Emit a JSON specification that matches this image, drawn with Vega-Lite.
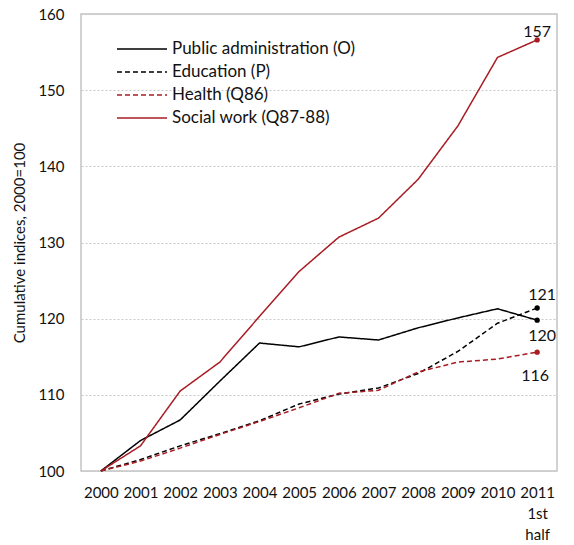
{
  "$schema": "https://vega.github.io/schema/vega-lite/v6.json",
  "width": 476,
  "height": 457,
  "padding": {"left": 12, "top": 7, "right": 10, "bottom": 5},
  "background": "white",
  "config": {
    "font": "Lato",
    "view": {"stroke": "#c4c4c4", "strokeWidth": 1.5},
    "axis": {
      "labelFont": "Lato",
      "labelFontSize": 15,
      "labelColor": "#111111",
      "titleFont": "Lato",
      "titleFontSize": 15,
      "titleFontWeight": "normal",
      "titleColor": "#111111",
      "gridColor": "#c8c8c8",
      "gridDash": [2, 2],
      "gridWidth": 1,
      "domain": false,
      "ticks": false
    }
  },
  "datasets": {
    "series": [
      {"series": "Public administration (O)", "year": "2000", "value": 100},
      {"series": "Public administration (O)", "year": "2001", "value": 104.0},
      {"series": "Public administration (O)", "year": "2002", "value": 106.7},
      {"series": "Public administration (O)", "year": "2003", "value": 111.8},
      {"series": "Public administration (O)", "year": "2004", "value": 116.8},
      {"series": "Public administration (O)", "year": "2005", "value": 116.3},
      {"series": "Public administration (O)", "year": "2006", "value": 117.6},
      {"series": "Public administration (O)", "year": "2007", "value": 117.2},
      {"series": "Public administration (O)", "year": "2008", "value": 118.8},
      {"series": "Public administration (O)", "year": "2009", "value": 120.1},
      {"series": "Public administration (O)", "year": "2010", "value": 121.3},
      {"series": "Public administration (O)", "year": "2011", "value": 119.8},
      {"series": "Education (P)", "year": "2000", "value": 100},
      {"series": "Education (P)", "year": "2001", "value": 101.5},
      {"series": "Education (P)", "year": "2002", "value": 103.3},
      {"series": "Education (P)", "year": "2003", "value": 104.9},
      {"series": "Education (P)", "year": "2004", "value": 106.6},
      {"series": "Education (P)", "year": "2005", "value": 108.8},
      {"series": "Education (P)", "year": "2006", "value": 110.1},
      {"series": "Education (P)", "year": "2007", "value": 110.9},
      {"series": "Education (P)", "year": "2008", "value": 112.8},
      {"series": "Education (P)", "year": "2009", "value": 115.7},
      {"series": "Education (P)", "year": "2010", "value": 119.4},
      {"series": "Education (P)", "year": "2011", "value": 121.4},
      {"series": "Health (Q86)", "year": "2000", "value": 100},
      {"series": "Health (Q86)", "year": "2001", "value": 101.3},
      {"series": "Health (Q86)", "year": "2002", "value": 103.0},
      {"series": "Health (Q86)", "year": "2003", "value": 104.8},
      {"series": "Health (Q86)", "year": "2004", "value": 106.5},
      {"series": "Health (Q86)", "year": "2005", "value": 108.3},
      {"series": "Health (Q86)", "year": "2006", "value": 110.2},
      {"series": "Health (Q86)", "year": "2007", "value": 110.6},
      {"series": "Health (Q86)", "year": "2008", "value": 113.0},
      {"series": "Health (Q86)", "year": "2009", "value": 114.3},
      {"series": "Health (Q86)", "year": "2010", "value": 114.7},
      {"series": "Health (Q86)", "year": "2011", "value": 115.6},
      {"series": "Social work (Q87-88)", "year": "2000", "value": 100},
      {"series": "Social work (Q87-88)", "year": "2001", "value": 103.3},
      {"series": "Social work (Q87-88)", "year": "2002", "value": 110.5},
      {"series": "Social work (Q87-88)", "year": "2003", "value": 114.3},
      {"series": "Social work (Q87-88)", "year": "2004", "value": 120.3},
      {"series": "Social work (Q87-88)", "year": "2005", "value": 126.2},
      {"series": "Social work (Q87-88)", "year": "2006", "value": 130.7},
      {"series": "Social work (Q87-88)", "year": "2007", "value": 133.2},
      {"series": "Social work (Q87-88)", "year": "2008", "value": 138.3},
      {"series": "Social work (Q87-88)", "year": "2009", "value": 145.3},
      {"series": "Social work (Q87-88)", "year": "2010", "value": 154.3},
      {"series": "Social work (Q87-88)", "year": "2011", "value": 156.6}
    ]
  },
  "data": {"name": "series"},
  "encoding": {
    "x": {
      "field": "year",
      "type": "ordinal",
      "scale": {"type": "band", "paddingInner": 0, "paddingOuter": 0},
      "axis": {
        "title": null,
        "labelAngle": 0,
        "labelPadding": 14,
        "tickBand": "extent",
        "labelLineHeight": 21,
        "labelExpr": "datum.value == '2011' ? ['2011', '1st', 'half'] : datum.value"
      }
    },
    "y": {
      "field": "value",
      "type": "quantitative",
      "scale": {"domain": [100, 160], "nice": false, "zero": false},
      "axis": {
        "title": "Cumulative indices, 2000=100",
        "values": [100, 110, 120, 130, 140, 150, 160],
        "labelPadding": 17,
        "titlePadding": 10
      }
    }
  },
  "layer": [
    {
      "mark": {"type": "line", "strokeWidth": 1.5},
      "encoding": {
        "color": {
          "field": "series",
          "type": "nominal",
          "scale": {
            "domain": ["Public administration (O)", "Education (P)", "Health (Q86)", "Social work (Q87-88)"],
            "range": ["#000000", "#000000", "#a81c24", "#a81c24"]
          },
          "legend": {
            "title": null,
            "orient": "none",
            "legendX": 50,
            "legendY": 24,
            "symbolType": "M-2.5,0H2.5",
            "symbolSize": 400,
            "symbolStrokeWidth": 1.5,
            "labelFont": "Lato",
            "labelFontSize": 17,
            "labelLimit": 400,
            "labelColor": "#111111",
            "rowPadding": 4,
            "labelOffset": 19,
            "padding": 0
          }
        },
        "strokeDash": {
          "field": "series",
          "type": "nominal",
          "scale": {
            "domain": ["Public administration (O)", "Education (P)", "Health (Q86)", "Social work (Q87-88)"],
            "range": [[1, 0], [5, 3], [5, 3], [1, 0]]
          },
          "legend": {
            "title": null,
            "orient": "none",
            "legendX": 50,
            "legendY": 24,
            "symbolType": "M-2.5,0H2.5",
            "symbolSize": 400,
            "symbolStrokeWidth": 1.5,
            "labelFont": "Lato",
            "labelFontSize": 17,
            "labelLimit": 400,
            "labelColor": "#111111",
            "rowPadding": 4,
            "labelOffset": 19,
            "padding": 0
          }
        }
      }
    },
    {
      "transform": [{"filter": "datum.year == '2011'"}],
      "mark": {"type": "point", "filled": true, "size": 28, "opacity": 1},
      "encoding": {
        "color": {"field": "series", "type": "nominal", "legend": null}
      }
    },
    {
      "transform": [{"filter": "datum.year == '2011' && datum.series == 'Social work (Q87-88)'"}],
      "mark": {"type": "text", "fontSize": 16, "dy": -8, "dx": 0, "color": "#111111"},
      "encoding": {"text": {"field": "value", "format": ".0f"}}
    },
    {
      "transform": [{"filter": "datum.year == '2011' && datum.series == 'Education (P)'"}],
      "mark": {"type": "text", "fontSize": 16, "dy": -13, "dx": 5, "color": "#111111"},
      "encoding": {"text": {"field": "value", "format": ".0f"}}
    },
    {
      "transform": [{"filter": "datum.year == '2011' && datum.series == 'Public administration (O)'"}],
      "mark": {"type": "text", "fontSize": 16, "dy": 16, "dx": 5, "color": "#111111"},
      "encoding": {"text": {"field": "value", "format": ".0f"}}
    },
    {
      "transform": [{"filter": "datum.year == '2011' && datum.series == 'Health (Q86)'"}],
      "mark": {"type": "text", "fontSize": 16, "dy": 24, "dx": -2, "color": "#111111"},
      "encoding": {"text": {"field": "value", "format": ".0f"}}
    }
  ]
}
